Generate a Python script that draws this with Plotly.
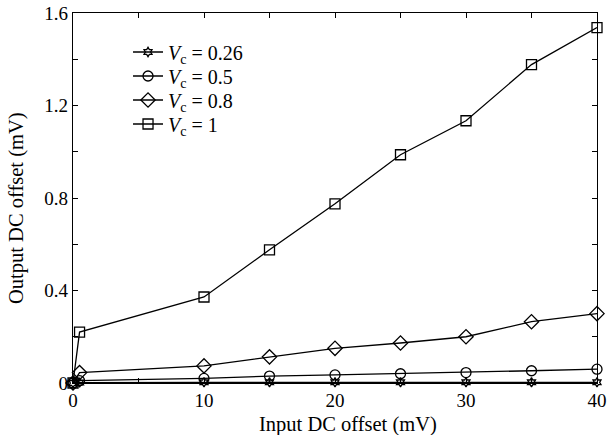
import plotly.graph_objects as go

x_vals = [0, 0.5, 10, 15, 20, 25, 30, 35, 40]
vc_026 = [0, 0.002, 0.003, 0.003, 0.003, 0.003, 0.003, 0.003, 0.003]
vc_05 = [0, 0.01, 0.02, 0.03, 0.035, 0.04, 0.045, 0.053, 0.06]
vc_08 = [0, 0.045, 0.074, 0.113, 0.15, 0.173, 0.2, 0.265, 0.30]
vc_1 = [0, 0.22, 0.372, 0.576, 0.775, 0.987, 1.134, 1.377, 1.537]

series = [
    ("<i>V</i><sub>c</sub> = 0.26", vc_026, "hexagram-open", 7),
    ("<i>V</i><sub>c</sub> = 0.5", vc_05, "circle-open", 10),
    ("<i>V</i><sub>c</sub> = 0.8", vc_08, "diamond-open", 11),
    ("<i>V</i><sub>c</sub> = 1", vc_1, "square-open", 10),
]
legend_ids = ["legend", "legend2", "legend3", "legend4"]
legend_rows = [0.8946, 0.8297, 0.7649, 0.70]

FONT = "Liberation Serif, Times New Roman, serif"

fig = go.Figure()
for (name, ys, sym, size), lid in zip(series, legend_ids):
    fig.add_trace(go.Scatter(
        x=x_vals, y=ys, name=name, mode="lines+markers",
        line=dict(color="black", width=1.3),
        marker=dict(symbol=sym, size=size, color="black", line=dict(width=1.3, color="black")),
        cliponaxis=False, legend=lid, showlegend=True,
    ))

axis_common = dict(
    showline=True, linecolor="black", linewidth=1.3, mirror="ticks",
    ticks="inside", ticklen=5, tickwidth=1, tickcolor="black",
    showgrid=False, zeroline=False, automargin=False,
    tickfont=dict(family=FONT, size=19, color="black"),
)

fig.update_xaxes(
    range=[0, 40], tickvals=[0, 10, 20, 30, 40],
    minor=dict(dtick=5, tick0=0, ticks="inside", ticklen=5, tickcolor="black", showgrid=False),
    **axis_common,
)
fig.update_yaxes(
    range=[0, 1.6], tickvals=[0, 0.4, 0.8, 1.2, 1.6], ticktext=["0", "0.4", "0.8", "1.2", "1.6"],
    minor=dict(dtick=0.2, tick0=0, ticks="inside", ticklen=5, tickcolor="black", showgrid=False),
    **axis_common,
)

TITLE_FONT = dict(family=FONT, size=20.5, color="black")
fig.add_annotation(text="Input DC offset (mV)", xref="paper", yref="paper",
                   x=0.525, y=-0.1135, xanchor="center", yanchor="middle",
                   showarrow=False, font=TITLE_FONT)
fig.add_annotation(text="Output DC offset (mV)", xref="paper", yref="paper",
                   x=-0.1069, y=0.473, xanchor="center", yanchor="middle",
                   textangle=-90, showarrow=False, font=TITLE_FONT)

layout_legends = {}
for lid, yrow in zip(legend_ids, legend_rows):
    layout_legends[lid] = dict(
        x=0.105, y=yrow, xanchor="left", yanchor="middle",
        bgcolor="rgba(0,0,0,0)", borderwidth=0,
        font=dict(family=FONT, size=20, color="black"),
    )

fig.update_layout(
    width=607, height=435,
    margin=dict(l=73, r=10, t=13, b=52),
    plot_bgcolor="white", paper_bgcolor="white",
    font=dict(family=FONT, size=18, color="black"),
    showlegend=True,
    **layout_legends,
)

fig.write_html("out.html")
